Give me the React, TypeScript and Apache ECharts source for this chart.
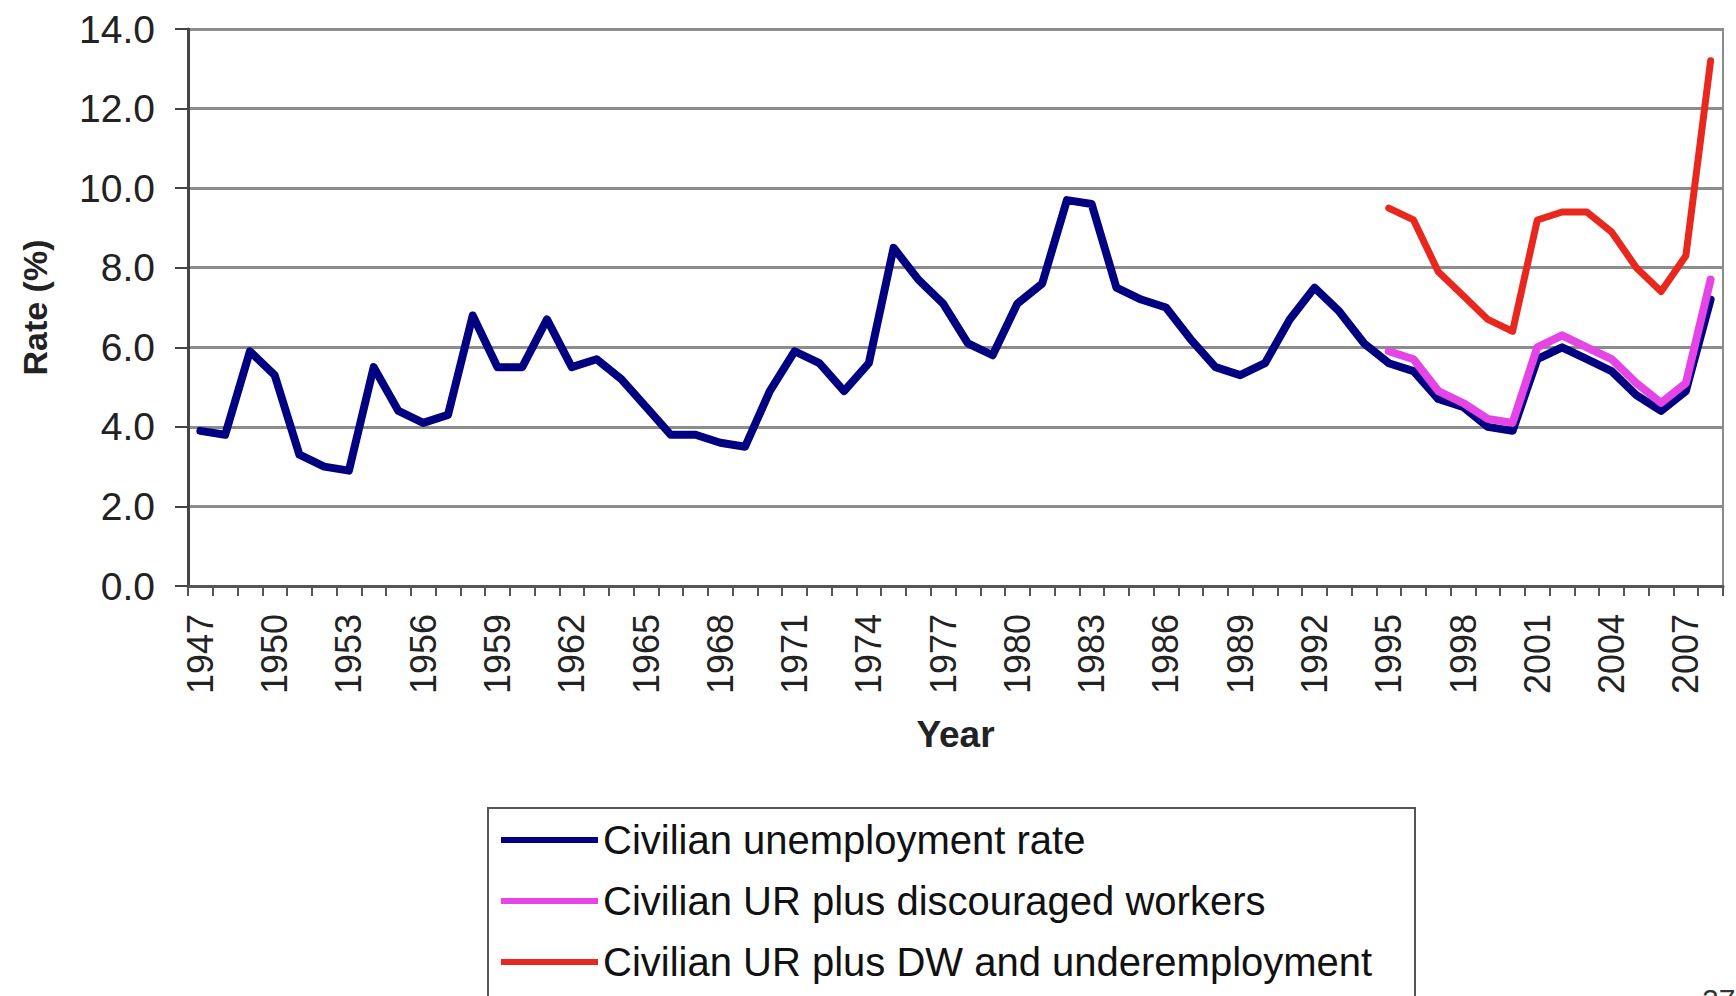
import React, { useEffect, useRef } from 'react';
import * as echarts from 'echarts';

const FONT = '"Liberation Sans", Arial, Helvetica, sans-serif';

const years = [
  '1947', '1948', '1949', '1950', '1951', '1952', '1953', '1954', '1955', '1956',
  '1957', '1958', '1959', '1960', '1961', '1962', '1963', '1964', '1965', '1966',
  '1967', '1968', '1969', '1970', '1971', '1972', '1973', '1974', '1975', '1976',
  '1977', '1978', '1979', '1980', '1981', '1982', '1983', '1984', '1985', '1986',
  '1987', '1988', '1989', '1990', '1991', '1992', '1993', '1994', '1995', '1996',
  '1997', '1998', '1999', '2000', '2001', '2002', '2003', '2004', '2005', '2006',
  '2007', '2008',
];

const civilianRate = [
  3.9, 3.8, 5.9, 5.3, 3.3, 3.0, 2.9, 5.5, 4.4, 4.1,
  4.3, 6.8, 5.5, 5.5, 6.7, 5.5, 5.7, 5.2, 4.5, 3.8,
  3.8, 3.6, 3.5, 4.9, 5.9, 5.6, 4.9, 5.6, 8.5, 7.7,
  7.1, 6.1, 5.8, 7.1, 7.6, 9.7, 9.6, 7.5, 7.2, 7.0,
  6.2, 5.5, 5.3, 5.6, 6.7, 7.5, 6.9, 6.1, 5.6, 5.4,
  4.7, 4.5, 4.0, 3.9, 5.7, 6.0, 5.7, 5.4, 4.8, 4.4,
  4.9, 7.2,
];

const altYears = [
  '1995', '1996', '1997', '1998', '1999', '2000', '2001',
  '2002', '2003', '2004', '2005', '2006', '2007', '2008',
];
const urDiscouraged = [5.9, 5.7, 4.9, 4.6, 4.2, 4.1, 6.0, 6.3, 6.0, 5.7, 5.1, 4.6, 5.1, 7.7];
const urUnderemployment = [9.5, 9.2, 7.9, 7.3, 6.7, 6.4, 9.2, 9.4, 9.4, 8.9, 8.0, 7.4, 8.3, 13.2];

const seriesNames = [
  'Civilian unemployment rate',
  'Civilian UR plus discouraged workers',
  'Civilian UR plus DW and underemployment',
];
const seriesColors = ['#000080', '#e545e5', '#e8281e'];

export default function App() {
  const ref = useRef<HTMLDivElement>(null);

  useEffect(() => {
    if (!ref.current) return;
    const chart = echarts.init(ref.current, null, { renderer: 'svg' });

    const lineSeries = (name: string, data: any[], color: string, width: number, z: number) => ({
      name,
      type: 'line',
      data,
      symbol: 'none',
      showSymbol: false,
      connectNulls: false,
      z,
      itemStyle: { color },
      lineStyle: { color, width, join: 'round', cap: 'round' },
      emphasis: { disabled: true },
    });

    chart.setOption({
      animation: false,
      backgroundColor: '#ffffff',
      textStyle: { fontFamily: FONT },
      grid: {
        left: 188,
        right: 13,
        top: 29,
        bottom: 410,
        show: true,
        borderColor: '#8c8c8c',
        borderWidth: 2,
        backgroundColor: 'transparent',
      },
      xAxis: {
        type: 'category',
        data: years,
        boundaryGap: true,
        axisLine: { show: true, lineStyle: { color: '#555', width: 3 } },
        axisTick: { show: true, interval: 0, length: 10, lineStyle: { color: '#555', width: 2 } },
        axisLabel: {
          interval: 2,
          rotate: 90,
          margin: 28,
          fontSize: 36,
          color: '#222',
          fontFamily: FONT,
        },
        splitLine: { show: false },
        name: 'Year',
        nameLocation: 'middle',
        nameGap: 130,
        nameTextStyle: { fontSize: 37, fontWeight: 'bold', color: '#222', fontFamily: FONT },
      },
      yAxis: {
        type: 'value',
        min: 0,
        max: 14,
        interval: 2,
        axisLine: { show: true, lineStyle: { color: '#444', width: 3 } },
        axisTick: { show: true, length: 13, lineStyle: { color: '#444', width: 2 } },
        axisLabel: {
          formatter: (v: number) => v.toFixed(1),
          margin: 33,
          fontSize: 39,
          color: '#222',
          fontFamily: FONT,
        },
        splitLine: { show: true, lineStyle: { color: '#8c8c8c', width: 3 } },
        name: 'Rate (%)',
        nameLocation: 'middle',
        nameRotate: 90,
        nameGap: 136,
        nameTextStyle: { fontSize: 34, fontWeight: 'bold', color: '#222', fontFamily: FONT },
      },
      legend: {
        orient: 'vertical',
        left: 488,
        top: 808,
        width: 1000,
        height: 260,
        padding: [12, 22, 30, 13],
        itemWidth: 97,
        itemHeight: 6,
        itemGap: 21,
        icon: 'rect',
        borderColor: '#555',
        borderWidth: 2,
        backgroundColor: '#ffffff',
        selectedMode: false,
        textStyle: { fontSize: 40, lineHeight: 40, color: '#111', fontFamily: FONT, width: 790 },
        data: seriesNames,
      },
      graphic: [
        {
          type: 'text',
          left: 1702,
          top: 984,
          style: { text: '27', fontSize: 30, fill: '#333', fontFamily: FONT },
        },
      ],
      series: [
        lineSeries(seriesNames[0], civilianRate, seriesColors[0], 8, 2),
        lineSeries(seriesNames[1], altYears.map((y, i) => [y, urDiscouraged[i]]), seriesColors[1], 8, 3),
        lineSeries(seriesNames[2], altYears.map((y, i) => [y, urUnderemployment[i]]), seriesColors[2], 7, 4),
      ],
    });

    return () => chart.dispose();
  }, []);

  return (
    <div
      ref={ref}
      style={{ position: 'fixed', left: 0, top: 0, width: 1736, height: 996, background: '#fff' }}
    />
  );
}
